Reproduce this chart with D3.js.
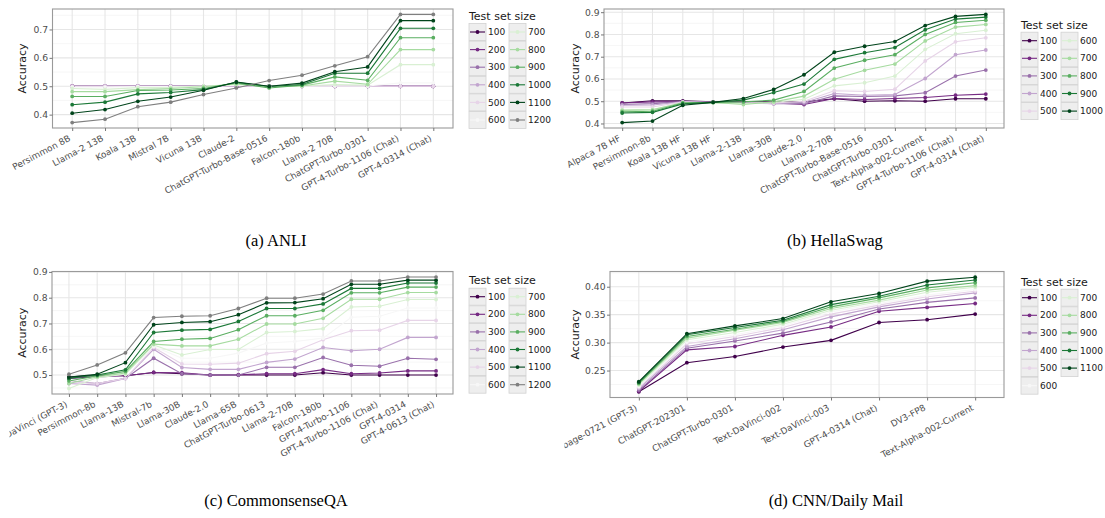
<!DOCTYPE html>
<html>
<head>
<meta charset="utf-8">
<script src="https://cdn.jsdelivr.net/npm/d3@7"></script>
<style>
  html, body { margin: 0; padding: 0; background: #fff; }
  svg { display: block; }
  svg text { font-family: "DejaVu Sans", sans-serif; }
  svg text.caption { font-family: "Liberation Serif", "Times New Roman", serif; }
</style>
</head>
<body>
<svg id="chart" width="1105" height="518"></svg>
<script>
// ---------------- DATA ----------------
const prgn11 = ["#40004b","#762a83","#9970ab","#c2a5cf","#e7d4e8","#f7f7f7","#d9f0d3","#a6dba0","#5aae61","#1b7837","#00441b"];
const prgn10 = ["#40004b","#762a83","#9970ab","#c2a5cf","#e7d4e8","#d9f0d3","#a6dba0","#5aae61","#1b7837","#00441b"];
const naColor = "#7f7f7f";

const anliModels = ["Persimmon 8B","Llama-2 13B","Koala 13B","Mistral 7B","Vicuna 13B","Claude-2","ChatGPT-Turbo-Base-0516","Falcon-180b","Llama-2 70B","ChatGPT-Turbo-0301","GPT-4-Turbo-1106 (Chat)","GPT-4-0314 (Chat)"];
const anliSizes = ["100","200","300","400","500","600","700","800","900","1000","1100","1200"];
const anliValues = [
  [0.500,0.500,0.500,0.500,0.500,0.500,0.500,0.500,0.500,0.500,0.500,0.500],
  [0.500,0.500,0.500,0.500,0.500,0.500,0.500,0.500,0.500,0.500,0.500,0.500],
  [0.500,0.500,0.500,0.500,0.500,0.500,0.500,0.500,0.500,0.500,0.500,0.500],
  [0.499,0.500,0.500,0.500,0.500,0.500,0.500,0.500,0.500,0.500,0.500,0.500],
  [0.500,0.500,0.500,0.500,0.500,0.501,0.500,0.500,0.500,0.500,0.500,0.500],
  [0.497,0.497,0.499,0.499,0.500,0.504,0.500,0.500,0.502,0.501,0.512,0.512],
  [0.492,0.489,0.495,0.496,0.501,0.506,0.499,0.501,0.506,0.504,0.576,0.576],
  [0.481,0.481,0.488,0.492,0.498,0.508,0.498,0.501,0.518,0.507,0.629,0.629],
  [0.464,0.464,0.485,0.487,0.492,0.512,0.494,0.504,0.533,0.521,0.671,0.671],
  [0.435,0.444,0.473,0.478,0.488,0.514,0.499,0.506,0.546,0.546,0.704,0.704],
  [0.405,0.418,0.447,0.462,0.486,0.515,0.500,0.511,0.551,0.568,0.731,0.731],
  [0.372,0.384,0.428,0.444,0.471,0.494,0.520,0.539,0.572,0.604,0.753,0.753]
];
const anliTicks = [0.4,0.5,0.6,0.7];

const hellaModels = ["Alpaca 7B HF","Persimmon-8b","Koala 13B HF","Vicuna 13B HF","Llama-2-13B","Llama-30B","Claude-2.0","Llama-2-70B","ChatGPT-Turbo-Base-0516","ChatGPT-Turbo-0301","Text-Alpha-002-Current","GPT-4-Turbo-1106 (Chat)","GPT-4-0314 (Chat)"];
const hellaSizes = ["100","200","300","400","500","600","700","800","900","1000"];
const hellaValues = [
  [0.492,0.502,0.502,0.497,0.497,0.497,0.497,0.511,0.500,0.502,0.500,0.511,0.511],
  [0.492,0.497,0.498,0.495,0.495,0.492,0.485,0.512,0.508,0.512,0.517,0.527,0.532],
  [0.485,0.489,0.498,0.495,0.494,0.489,0.489,0.524,0.521,0.524,0.538,0.613,0.640],
  [0.482,0.483,0.497,0.494,0.492,0.489,0.494,0.535,0.527,0.530,0.602,0.709,0.730],
  [0.474,0.474,0.497,0.494,0.492,0.492,0.500,0.547,0.544,0.554,0.681,0.767,0.785],
  [0.462,0.464,0.491,0.492,0.489,0.494,0.509,0.569,0.583,0.613,0.733,0.803,0.819],
  [0.459,0.461,0.494,0.494,0.485,0.497,0.523,0.599,0.639,0.667,0.771,0.833,0.845],
  [0.452,0.455,0.492,0.495,0.497,0.505,0.544,0.649,0.684,0.709,0.800,0.854,0.864],
  [0.447,0.450,0.488,0.495,0.505,0.539,0.577,0.688,0.718,0.741,0.821,0.869,0.878],
  [0.404,0.411,0.482,0.495,0.512,0.553,0.619,0.720,0.747,0.768,0.840,0.881,0.890]
];
const hellaTicks = [0.4,0.5,0.6,0.7,0.8,0.9];

const csqaModels = ["DaVinci (GPT-3)","Persimmon-8b","Llama-13B","Mistral-7b","Llama-30B","Claude-2.0","Llama-65B","ChatGPT-Turbo-0613","Llama-2-70B","Falcon-180b","GPT-4-Turbo-1106","GPT-4-Turbo-1106 (Chat)","GPT-4-0314","GPT-4-0613 (Chat)"];
const csqaSizes = ["100","200","300","400","500","600","700","800","900","1000","1100","1200"];
const csqaValues = [
  [0.492,0.500,0.497,0.510,0.505,0.500,0.500,0.500,0.500,0.509,0.500,0.500,0.500,0.500],
  [0.487,0.493,0.497,0.510,0.509,0.500,0.501,0.505,0.505,0.521,0.505,0.508,0.516,0.516],
  [0.477,0.467,0.487,0.565,0.505,0.500,0.500,0.530,0.530,0.568,0.538,0.534,0.565,0.561],
  [0.467,0.461,0.487,0.600,0.529,0.522,0.522,0.549,0.562,0.607,0.594,0.600,0.646,0.646],
  [0.474,0.467,0.487,0.607,0.543,0.542,0.546,0.583,0.592,0.637,0.672,0.674,0.712,0.712],
  [0.474,0.493,0.503,0.611,0.565,0.565,0.585,0.624,0.630,0.643,0.724,0.728,0.760,0.760],
  [0.448,0.490,0.503,0.617,0.578,0.599,0.599,0.665,0.669,0.680,0.764,0.767,0.793,0.793],
  [0.467,0.493,0.508,0.620,0.613,0.613,0.639,0.698,0.698,0.720,0.794,0.794,0.820,0.820],
  [0.477,0.497,0.514,0.630,0.639,0.642,0.676,0.730,0.730,0.751,0.819,0.819,0.841,0.841],
  [0.487,0.500,0.520,0.665,0.674,0.677,0.708,0.758,0.758,0.776,0.836,0.836,0.857,0.857],
  [0.492,0.503,0.548,0.695,0.704,0.707,0.734,0.780,0.781,0.796,0.852,0.852,0.868,0.868],
  [0.503,0.539,0.586,0.723,0.728,0.730,0.758,0.798,0.798,0.814,0.865,0.865,0.880,0.880]
];
const csqaTicks = [0.5,0.6,0.7,0.8,0.9];

const cnnModels = ["Babbage-0721 (GPT-3)","ChatGPT-202301","ChatGPT-Turbo-0301","Text-DaVinci-002","Text-DaVinci-003","GPT-4-0314 (Chat)","DV3-FP8","Text-Alpha-002-Current"];
const cnnSizes = ["100","200","300","400","500","600","700","800","900","1000","1100"];
const cnnValues = [
  [0.212,0.264,0.275,0.292,0.304,0.336,0.341,0.351],
  [0.213,0.287,0.293,0.313,0.328,0.356,0.363,0.370],
  [0.215,0.290,0.303,0.317,0.337,0.360,0.372,0.380],
  [0.218,0.293,0.307,0.323,0.346,0.364,0.378,0.389],
  [0.220,0.298,0.311,0.327,0.351,0.367,0.382,0.392],
  [0.222,0.301,0.314,0.330,0.355,0.370,0.385,0.395],
  [0.224,0.305,0.318,0.333,0.358,0.373,0.390,0.399],
  [0.226,0.308,0.322,0.336,0.361,0.376,0.394,0.402],
  [0.227,0.311,0.324,0.338,0.364,0.380,0.398,0.407],
  [0.229,0.314,0.327,0.340,0.368,0.383,0.403,0.412],
  [0.230,0.316,0.330,0.343,0.373,0.388,0.410,0.417]
];
const cnnTicks = [0.25,0.30,0.35,0.40];

const captions = ["(a) ANLI","(b) HellaSwag","(c) CommonsenseQA","(d) CNN/Daily Mail"];

// ---------------- LAYOUT ----------------
const svg = d3.select("#chart");

function paletteFor(n) {
  if (n <= 10) return prgn10.slice(0, n);
  return d3.range(n).map(i => i < 11 ? prgn11[i] : naColor);
}

const panels = [
  { models: anliModels, sizes: anliSizes, values: anliValues, ticks: anliTicks, fmt: d3.format(".1f"),
    rect: {x0: 52.5, x1: 453, y0: 9, y1: 128}, titleX: 22, legendX: 469, legendTitleY: 20, rowY0: 32, nrow: 6,
    clip: null, caption: captions[0], capX: 276, capY: 246 },
  { models: hellaModels, sizes: hellaSizes, values: hellaValues, ticks: hellaTicks, fmt: d3.format(".1f"),
    rect: {x0: 604, x1: 1004, y0: 9, y1: 128}, titleX: 575, legendX: 1021, legendTitleY: 28.5, rowY0: 40.7, nrow: 5,
    clip: null, caption: captions[1], capX: 835, capY: 246 },
  { models: csqaModels, sizes: csqaSizes, values: csqaValues, ticks: csqaTicks, fmt: d3.format(".1f"),
    rect: {x0: 52, x1: 453, y0: 271.5, y1: 394}, titleX: 22, legendX: 469, legendTitleY: 284, rowY0: 296.7, nrow: 6,
    clip: [9.5, 560], caption: captions[2], capX: 276, capY: 506 },
  { models: cnnModels, sizes: cnnSizes, values: cnnValues, ticks: cnnTicks, fmt: d3.format(".2f"),
    rect: {x0: 610, x1: 1004, y0: 271.5, y1: 397.5}, titleX: 575, legendX: 1021, legendTitleY: 286, rowY0: 297.7, nrow: 6,
    clip: [564.5, 1105], caption: captions[3], capX: 836, capY: 506 }
];

const defs = svg.append("defs");
const xTickFont = "8.9px", yTickFont = "9.2px", legFont = "9px", titleFont = "11px";

panels.forEach((p, pi) => {
  const r = p.rect;
  const g = svg.append("g");
  const colors = paletteFor(p.sizes.length);
  const x = d3.scalePoint().domain(p.models).range([r.x0, r.x1]).padding(0.6);
  const allVals = p.values.flat();
  const lo = d3.min(allVals), hi = d3.max(allVals), span = hi - lo;
  const y = d3.scaleLinear().domain([lo - 0.05 * span, hi + 0.05 * span]).range([r.y1, r.y0]);

  g.append("rect").attr("x", r.x0).attr("y", r.y0).attr("width", r.x1 - r.x0).attr("height", r.y1 - r.y0).attr("fill", "#fff");

  const step = p.ticks[1] - p.ticks[0];
  const minors = [];
  for (let v = p.ticks[0] - step / 2; v <= y.domain()[1] + 1e-9; v += step) {
    if (v >= y.domain()[0]) minors.push(v);
  }
  g.selectAll(".minor").data(minors).join("line")
    .attr("x1", r.x0).attr("x2", r.x1).attr("y1", d => y(d)).attr("y2", d => y(d))
    .attr("stroke", "#f2f2f2").attr("stroke-width", 0.7);
  g.selectAll(".majy").data(p.ticks).join("line")
    .attr("x1", r.x0).attr("x2", r.x1).attr("y1", d => y(d)).attr("y2", d => y(d))
    .attr("stroke", "#e6e6e6").attr("stroke-width", 1.1);
  g.selectAll(".majx").data(p.models).join("line")
    .attr("x1", d => x(d)).attr("x2", d => x(d)).attr("y1", r.y0).attr("y2", r.y1)
    .attr("stroke", "#e6e6e6").attr("stroke-width", 1.1);

  const line = d3.line().x((d, i) => x(p.models[i])).y(d => y(d));
  p.values.forEach((vals, si) => {
    g.append("path").attr("d", line(vals)).attr("fill", "none")
      .attr("stroke", colors[si]).attr("stroke-width", 1.1);
  });
  p.values.forEach((vals, si) => {
    g.append("g").selectAll("circle").data(vals).join("circle")
      .attr("cx", (d, i) => x(p.models[i])).attr("cy", d => y(d)).attr("r", 1.9)
      .attr("fill", colors[si]);
  });

  g.append("rect").attr("x", r.x0).attr("y", r.y0).attr("width", r.x1 - r.x0).attr("height", r.y1 - r.y0)
    .attr("fill", "none").attr("stroke", "#9a9a9a").attr("stroke-width", 1.1);

  const yAxis = d3.axisLeft(y).tickValues(p.ticks).tickFormat(p.fmt).tickSize(3).tickPadding(1.5);
  const ya = g.append("g").attr("transform", `translate(${r.x0},0)`).call(yAxis);
  ya.attr("font-family", null).attr("font-size", null);
  ya.select(".domain").remove();
  ya.selectAll(".tick line").attr("stroke", "#777");
  ya.selectAll("text").attr("fill", "#4d4d4d").style("font-size", yTickFont);

  const xAxis = d3.axisBottom(x).tickSize(3).tickFormat(d => d);
  const xa = g.append("g").attr("transform", `translate(0,${r.y1})`).call(xAxis);
  xa.attr("font-family", null).attr("font-size", null);
  xa.select(".domain").remove();
  xa.selectAll(".tick line").attr("stroke", "#777");
  xa.selectAll("text")
    .attr("fill", "#4d4d4d").style("font-size", xTickFont)
    .attr("text-anchor", "end").attr("y", 0).attr("dy", "0.72em")
    .attr("transform", "translate(-4.5,6.5) rotate(-28)");
  if (p.clip) {
    const id = "clip" + pi;
    defs.append("clipPath").attr("id", id).append("rect")
      .attr("x", p.clip[0]).attr("y", -r.y1).attr("width", p.clip[1] - p.clip[0]).attr("height", 518);
    xa.attr("clip-path", `url(#${id})`);
  }

  g.append("text").attr("transform", `translate(${p.titleX},${(r.y0 + r.y1) / 2}) rotate(-90)`)
    .attr("text-anchor", "middle").attr("dy", "0.35em")
    .style("font-size", titleFont).attr("fill", "#1a1a1a").text("Accuracy");

  const lg = g.append("g");
  lg.append("text").attr("x", p.legendX).attr("y", p.legendTitleY)
    .style("font-size", titleFont).attr("fill", "#1a1a1a").text("Test set size");
  const rowStep = 17.6, box = 17, colStep = 40;
  p.sizes.forEach((s, i) => {
    const col = Math.floor(i / p.nrow), row = i % p.nrow;
    const kx = p.legendX + col * colStep, cy = p.rowY0 + row * rowStep;
    lg.append("rect").attr("x", kx).attr("y", cy - box / 2).attr("width", box).attr("height", box)
      .attr("fill", "#eeeeee").attr("stroke", "#d2d2d2").attr("stroke-width", 0.8);
    lg.append("line").attr("x1", kx + 1).attr("x2", kx + box - 1).attr("y1", cy).attr("y2", cy)
      .attr("stroke", colors[i]).attr("stroke-width", 1.1);
    lg.append("circle").attr("cx", kx + box / 2).attr("cy", cy).attr("r", 1.9).attr("fill", colors[i]);
    lg.append("text").attr("x", kx + box + 2).attr("y", cy).attr("dy", "0.35em")
      .style("font-size", legFont).attr("fill", "#1a1a1a").text(s);
  });

  svg.append("text").attr("class", "caption").attr("x", p.capX).attr("y", p.capY).attr("text-anchor", "middle")
    .style("font-size", "16.5px").attr("fill", "#000").text(p.caption);
});
</script>
</body>
</html>
